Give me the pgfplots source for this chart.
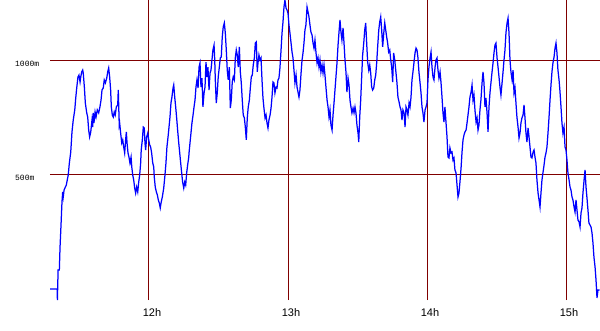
\documentclass[border=0pt]{standalone}
\usepackage{fontspec}
\usepackage{pgfplots}
\pgfplotsset{compat=1.18}
\newfontfamily\monofont{Liberation Mono}
\newfontfamily\labsans{Liberation Sans}
\definecolor{gridred}{RGB}{128,0,0}
\definecolor{trace}{RGB}{0,0,255}
\begin{document}
\begin{tikzpicture}
\useasboundingbox[fill=white] (-50pt,-30pt) rectangle (550pt,300pt);
\begin{axis}[
  scale only axis, width=550pt, height=300pt,
  xmin=11.2878, xmax=15.2446, ymin=-48, ymax=1262,
  axis line style={draw=none},
  major tick length=0pt, tick style={draw=none},
  xtick={12,13,14,15}, xticklabels={12h,13h,14h,15h},
  ytick={500,1000}, yticklabels={500m,1000m},
  grid=major, grid style={gridred, line width=1pt},
  xticklabel style={font=\labsans\fontsize{11}{11}\selectfont, anchor=center, inner sep=0pt, yshift=-13pt, xshift=3pt},
  yticklabel style={font=\monofont\fontsize{8}{8}\selectfont, anchor=west, inner sep=0pt, xshift=-35pt, yshift=-3.5pt},
  clip=true,
]
\addplot[trace, line width=1.25pt, mark=none, line join=miter] table {
x y
11.288 0
11.340 0
11.341 -48
11.346 83
11.355 83
11.360 183
11.367 279
11.374 380
11.379 424
11.383 402
11.389 432
11.398 445
11.405 454
11.412 476
11.419 498
11.427 550
11.437 598
11.446 686
11.455 738
11.466 782
11.473 834
11.480 878
11.489 926
11.496 934
11.504 904
11.509 926
11.516 948
11.523 956
11.527 943
11.535 882
11.542 812
11.552 769
11.559 751
11.566 694
11.573 664
11.581 686
11.590 738
11.595 707
11.599 769
11.604 725
11.612 773
11.619 751
11.628 782
11.638 769
11.647 795
11.655 825
11.662 869
11.671 878
11.678 913
11.686 900
11.696 921
11.703 948
11.710 965
11.717 926
11.724 869
11.729 795
11.736 760
11.743 751
11.750 773
11.757 760
11.765 795
11.775 804
11.779 869
11.786 716
11.789 725
11.796 681
11.804 638
11.811 651
11.818 620
11.825 594
11.832 651
11.837 686
11.842 638
11.849 594
11.856 576
11.863 550
11.871 576
11.876 533
11.883 498
11.890 476
11.897 441
11.904 419
11.911 445
11.919 424
11.926 467
11.933 498
11.940 550
11.944 607
11.952 651
11.959 707
11.966 703
11.971 638
11.976 607
11.983 664
11.991 681
11.998 651
12.005 629
12.012 620
12.019 594
12.027 550
12.034 533
12.038 489
12.045 445
12.053 424
12.060 411
12.067 389
12.074 376
12.081 354
12.088 380
12.096 402
12.106 441
12.115 498
12.122 550
12.129 620
12.137 664
12.144 707
12.151 751
12.158 812
12.165 838
12.173 878
12.178 891
12.185 838
12.192 795
12.199 747
12.206 694
12.214 638
12.221 594
12.228 550
12.235 507
12.242 467
12.250 441
12.257 467
12.264 454
12.271 507
12.278 541
12.286 576
12.288 594
12.295 638
12.302 681
12.309 725
12.317 760
12.324 795
12.331 825
12.338 882
12.345 913
12.353 878
12.360 969
12.367 987
12.374 882
12.381 921
12.388 795
12.396 856
12.403 882
12.410 991
12.417 926
12.424 969
12.432 869
12.439 943
12.446 956
12.453 1000
12.460 1044
12.468 1065
12.473 1000
12.477 913
12.484 812
12.491 856
12.498 926
12.506 969
12.513 1009
12.520 1013
12.527 1100
12.534 1144
12.542 1162
12.549 1118
12.556 1044
12.563 956
12.570 913
12.578 969
12.585 790
12.592 825
12.599 904
12.606 926
12.614 913
12.621 1009
12.628 1044
12.635 1022
12.642 969
12.650 1057
12.657 948
12.664 900
12.671 825
12.678 760
12.686 747
12.693 707
12.700 651
12.707 747
12.714 795
12.722 825
12.729 878
12.736 926
12.743 934
12.750 978
12.758 1009
12.765 1074
12.772 1079
12.779 948
12.784 987
12.791 1022
12.799 1000
12.806 1009
12.813 913
12.820 834
12.827 790
12.835 747
12.842 760
12.849 725
12.856 703
12.863 738
12.871 760
12.878 790
12.885 838
12.892 904
12.899 900
12.906 856
12.914 882
12.921 878
12.928 913
12.935 921
12.942 965
12.950 1044
12.957 1118
12.964 1166
12.971 1231
12.978 1262
12.986 1227
12.993 1218
13.000 1205
13.007 1153
13.014 1118
13.022 1074
13.029 1035
13.036 1009
13.043 956
13.050 900
13.058 934
13.065 882
13.072 860
13.079 838
13.086 869
13.094 943
13.101 1000
13.108 1031
13.115 1074
13.122 1131
13.129 1153
13.137 1231
13.144 1210
13.151 1188
13.158 1153
13.165 1122
13.173 1109
13.180 1074
13.187 1052
13.194 1087
13.201 1035
13.209 987
13.216 1009
13.223 969
13.230 1000
13.237 948
13.245 978
13.252 943
13.259 978
13.266 934
13.273 882
13.281 825
13.288 795
13.295 751
13.302 782
13.309 716
13.317 694
13.324 760
13.331 812
13.338 869
13.345 926
13.353 991
13.360 1065
13.367 1122
13.374 1175
13.381 1122
13.388 1087
13.396 1140
13.403 1074
13.410 1000
13.417 948
13.424 860
13.432 921
13.439 891
13.446 825
13.453 795
13.460 769
13.468 790
13.475 769
13.482 795
13.489 769
13.496 716
13.504 681
13.509 642
13.516 751
13.523 825
13.530 926
13.537 1022
13.545 1074
13.552 1131
13.559 1162
13.566 1074
13.573 991
13.581 956
13.588 978
13.595 943
13.602 882
13.609 869
13.617 878
13.624 913
13.631 934
13.638 987
13.645 1057
13.653 1131
13.660 1166
13.667 1188
13.674 1131
13.681 1057
13.689 1118
13.696 1162
13.703 1131
13.710 1100
13.717 1074
13.724 1035
13.732 1044
13.739 1000
13.746 969
13.753 904
13.760 1031
13.768 1000
13.775 956
13.784 900
13.791 838
13.799 817
13.806 795
13.813 782
13.820 738
13.827 782
13.835 769
13.842 707
13.849 795
13.856 782
13.863 760
13.871 812
13.878 795
13.885 838
13.892 913
13.899 948
13.906 987
13.914 1031
13.921 1052
13.928 1044
13.935 1009
13.942 948
13.950 900
13.957 856
13.964 795
13.971 769
13.978 729
13.986 782
13.993 795
14.000 812
14.007 913
14.014 969
14.022 1009
14.029 1035
14.036 969
14.043 926
14.050 913
14.058 969
14.065 1000
14.072 1009
14.079 956
14.086 921
14.094 948
14.101 900
14.108 838
14.115 769
14.122 729
14.129 795
14.137 725
14.144 664
14.151 576
14.158 572
14.165 616
14.173 594
14.180 598
14.187 563
14.194 572
14.201 520
14.209 507
14.216 454
14.223 402
14.230 419
14.237 467
14.245 528
14.252 598
14.259 651
14.266 672
14.273 686
14.281 694
14.288 725
14.295 760
14.302 795
14.309 838
14.317 860
14.324 891
14.331 825
14.338 847
14.345 782
14.353 729
14.360 747
14.367 694
14.374 716
14.381 782
14.388 825
14.396 900
14.403 948
14.410 900
14.417 795
14.424 834
14.432 769
14.439 686
14.446 795
14.453 856
14.460 900
14.468 948
14.475 987
14.482 1031
14.489 1065
14.496 1074
14.504 1009
14.511 969
14.518 926
14.525 882
14.532 847
14.540 900
14.547 948
14.554 1000
14.561 1044
14.568 1118
14.576 1162
14.583 1183
14.590 1118
14.597 1000
14.604 948
14.612 913
14.619 956
14.626 856
14.633 878
14.640 812
14.647 751
14.655 707
14.662 659
14.669 681
14.676 725
14.683 747
14.691 760
14.698 804
14.705 747
14.712 681
14.719 642
14.727 703
14.734 664
14.741 620
14.748 576
14.755 572
14.763 598
14.770 607
14.777 576
14.784 550
14.791 476
14.799 419
14.806 389
14.813 358
14.820 419
14.827 476
14.835 511
14.842 541
14.849 576
14.856 594
14.863 620
14.871 686
14.878 751
14.885 825
14.892 891
14.899 948
14.906 987
14.914 1013
14.921 1052
14.928 1074
14.935 1031
14.942 956
14.950 913
14.957 860
14.964 795
14.971 725
14.978 681
14.986 707
14.993 620
15.000 607
15.007 563
15.014 507
15.022 476
15.029 445
15.036 432
15.043 402
15.050 389
15.058 358
15.065 336
15.072 389
15.079 345
15.086 301
15.094 293
15.101 271
15.108 332
15.115 354
15.122 419
15.130 476
15.137 520
15.144 445
15.151 397
15.158 345
15.165 288
15.173 279
15.180 271
15.187 245
15.194 201
15.201 140
15.209 96
15.216 39
15.223 -39
15.230 -4
15.241 -4
};
\end{axis}
\end{tikzpicture}
\end{document}
